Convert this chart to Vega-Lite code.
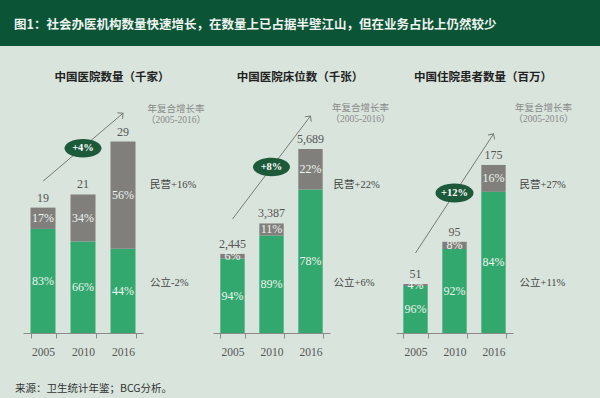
{
  "$schema": "https://vega.github.io/schema/vega-lite/v6.json",
  "background": "#d8e4dc",
  "padding": 0,
  "spacing": 25,
  "bounds": "full",
  "config": {
    "view": {"stroke": null},
    "axis": {"title": null, "labelAngle": 0, "domainColor": "#8a8a8a", "tickColor": "#8a8a8a", "tickSize": 5, "tickBand": "extent", "labelFont": "Liberation Serif", "labelFontSize": 11.5, "labelColor": "#555555", "labelPadding": 8, "grid": false},
    "title": {"font": "Noto Sans CJK SC", "fontSize": 11.5, "fontWeight": "bold", "color": "#222222", "offset": 8, "anchor": "middle", "frame": "group"},
    "text": {"font": "Liberation Serif, Noto Sans CJK SC"}
  },
  "datasets": {
    "bars1": [
      {"year": "2005", "seg": "公立", "ord": 1, "v": 15.77, "pct": "83%"},
      {"year": "2005", "seg": "民营", "ord": 2, "v": 3.23, "pct": "17%"},
      {"year": "2010", "seg": "公立", "ord": 1, "v": 13.86, "pct": "66%"},
      {"year": "2010", "seg": "民营", "ord": 2, "v": 7.14, "pct": "34%"},
      {"year": "2016", "seg": "公立", "ord": 1, "v": 12.76, "pct": "44%"},
      {"year": "2016", "seg": "民营", "ord": 2, "v": 16.24, "pct": "56%"}
    ],
    "tot1": [{"year": "2005", "v": 19}, {"year": "2010", "v": 21}, {"year": "2016", "v": 29}],
    "arr1": [{"year": "2005", "v": 23.0}, {"year": "2016", "v": 33.3}],
    "ell1": [{"year": "2010", "v": 28.0, "label": "+4%"}],
    "cagr1": [{"year": "2016", "v": 34.0, "label": "年复合增长率"}, {"year": "2016", "v": 32.3, "label": "（2005-2016）"}],
    "seg1": [{"year": "2016", "v": 22.4, "label": "民营+16%"}, {"year": "2016", "v": 7.6, "label": "公立-2%"}],
    "bars2": [
      {"year": "2005", "seg": "公立", "ord": 1, "v": 2298.3, "pct": "94%"},
      {"year": "2005", "seg": "民营", "ord": 2, "v": 146.7, "pct": "6%"},
      {"year": "2010", "seg": "公立", "ord": 1, "v": 3014.4, "pct": "89%"},
      {"year": "2010", "seg": "民营", "ord": 2, "v": 372.6, "pct": "11%"},
      {"year": "2016", "seg": "公立", "ord": 1, "v": 4437.4, "pct": "78%"},
      {"year": "2016", "seg": "民营", "ord": 2, "v": 1251.6, "pct": "22%"}
    ],
    "tot2": [{"year": "2005", "v": 2445}, {"year": "2010", "v": 3387}, {"year": "2016", "v": 5689}],
    "arr2": [{"year": "2005", "v": 3525}, {"year": "2016", "v": 6710}],
    "ell2": [{"year": "2010", "v": 5133, "label": "+8%"}],
    "cagr2": [{"year": "2016", "v": 6950, "label": "年复合增长率"}, {"year": "2016", "v": 6610, "label": "（2005-2016）"}],
    "seg2": [{"year": "2016", "v": 4576, "label": "民营+22%"}, {"year": "2016", "v": 1546, "label": "公立+6%"}],
    "bars3": [
      {"year": "2005", "seg": "公立", "ord": 1, "v": 48.96, "pct": "96%"},
      {"year": "2005", "seg": "民营", "ord": 2, "v": 2.04, "pct": "4%"},
      {"year": "2010", "seg": "公立", "ord": 1, "v": 87.4, "pct": "92%"},
      {"year": "2010", "seg": "民营", "ord": 2, "v": 7.6, "pct": "8%"},
      {"year": "2016", "seg": "公立", "ord": 1, "v": 147.0, "pct": "84%"},
      {"year": "2016", "seg": "民营", "ord": 2, "v": 28.0, "pct": "16%"}
    ],
    "tot3": [{"year": "2005", "v": 51}, {"year": "2010", "v": 95}, {"year": "2016", "v": 175}],
    "arr3": [{"year": "2005", "v": 83.3}, {"year": "2016", "v": 207.3}],
    "ell3": [{"year": "2010", "v": 145.8, "label": "+12%"}],
    "cagr3": [{"year": "2016", "v": 234.0, "label": "年复合增长率"}, {"year": "2016", "v": 222.5, "label": "（2005-2016）"}],
    "seg3": [{"year": "2016", "v": 154, "label": "民营+27%"}, {"year": "2016", "v": 52, "label": "公立+11%"}],
    "head": [{"t": "图1：社会办医机构数量快速增长，在数量上已占据半壁江山，但在业务占比上仍然较少"}],
    "foot": [{"t": "来源：卫生统计年鉴；BCG分析。"}]
  },
  "vconcat": [
    {
      "width": 600, "height": 46,
      "view": {"fill": "#0b5436", "stroke": null},
      "data": {"name": "head"},
      "mark": {"type": "text", "align": "left", "dx": -286, "dy": 2, "font": "Noto Sans CJK SC", "fontSize": 12.5, "fontWeight": "bold", "color": "#eef3ef"},
      "encoding": {"text": {"field": "t"}}
    },
    {
      "spacing": 0,
      "bounds": "flush",
      "hconcat": [
        {
          "width": 205, "height": 242,
          "title": {"text": "中国医院数量（千家）", "dx": 9.5},
          "encoding": {
            "x": {"field": "year", "type": "ordinal", "scale": {"range": [23, 143], "paddingInner": 0.375, "paddingOuter": 0.1875}},
            "y": {"field": "v", "type": "quantitative", "scale": {"domain": [0, 36.67], "nice": false}, "axis": null}
          },
          "layer": [
            {"data": {"name": "bars1"}, "mark": {"type": "bar"},
             "encoding": {"y": {"field": "v", "type": "quantitative", "stack": "zero"},
               "color": {"field": "seg", "type": "nominal", "scale": {"domain": ["公立", "民营"], "range": ["#33a86e", "#807f7c"]}, "legend": null},
               "order": {"field": "ord"}}},
            {"data": {"name": "bars1"}, "mark": {"type": "text", "color": "#eef4ef", "fontSize": 12},
             "encoding": {"y": {"field": "v", "type": "quantitative", "stack": "zero", "bandPosition": 0.5},
               "detail": {"field": "seg"}, "order": {"field": "ord"}, "text": {"field": "pct"}}},
            {"data": {"name": "tot1"}, "mark": {"type": "text", "baseline": "bottom", "dy": -3, "color": "#555555", "fontSize": 12},
             "encoding": {"text": {"field": "v", "format": ","}}},
            {"data": {"name": "arr1"}, "mark": {"type": "line", "color": "#7a7a7a", "strokeWidth": 1}, "encoding": {}},
            {"data": {"name": "arr1"}, "transform": [{"filter": {"field": "year", "equal": "2016"}}],
             "mark": {"type": "point", "shape": "M-0.7,0.7L0,0L0.7,0.7", "filled": false, "color": "#7a7a7a", "strokeWidth": 1, "size": 130, "angle": 49, "opacity": 1}, "encoding": {}},
            {"data": {"name": "ell1"}, "mark": {"type": "point", "shape": "M-1,0A1,0.5,0,1,1,1,0A1,0.5,0,1,1,-1,0Z", "filled": true, "color": "#1d5a3a", "size": 1369, "opacity": 1}, "encoding": {}},
            {"data": {"name": "ell1"}, "mark": {"type": "text", "color": "#ffffff", "fontSize": 10.5, "fontWeight": "bold"}, "encoding": {"text": {"field": "label"}}},
            {"data": {"name": "cagr1"}, "mark": {"type": "text", "align": "center", "dx": 53, "color": "#8a8a8a", "fontSize": 9.5}, "encoding": {"text": {"field": "label"}}},
            {"data": {"name": "seg1"}, "mark": {"type": "text", "align": "left", "dx": 27, "color": "#444444", "fontSize": 10.5}, "encoding": {"text": {"field": "label"}}}
          ]
        },
        {
          "width": 190, "height": 242,
          "title": {"text": "中国医院床位数（千张）", "dx": 0},
          "encoding": {
            "x": {"field": "year", "type": "ordinal", "scale": {"range": [8, 125], "paddingInner": 0.375, "paddingOuter": 0.1875}},
            "y": {"field": "v", "type": "quantitative", "scale": {"domain": [0, 7483], "nice": false}, "axis": null}
          },
          "layer": [
            {"data": {"name": "bars2"}, "mark": {"type": "bar"},
             "encoding": {"y": {"field": "v", "type": "quantitative", "stack": "zero"},
               "color": {"field": "seg", "type": "nominal", "scale": {"domain": ["公立", "民营"], "range": ["#33a86e", "#807f7c"]}, "legend": null},
               "order": {"field": "ord"}}},
            {"data": {"name": "bars2"}, "mark": {"type": "text", "color": "#eef4ef", "fontSize": 12},
             "encoding": {"y": {"field": "v", "type": "quantitative", "stack": "zero", "bandPosition": 0.5},
               "detail": {"field": "seg"}, "order": {"field": "ord"}, "text": {"field": "pct"}}},
            {"data": {"name": "tot2"}, "mark": {"type": "text", "baseline": "bottom", "dy": -3, "color": "#555555", "fontSize": 12},
             "encoding": {"text": {"field": "v", "format": ","}}},
            {"data": {"name": "arr2"}, "mark": {"type": "line", "color": "#7a7a7a", "strokeWidth": 1}, "encoding": {}},
            {"data": {"name": "arr2"}, "transform": [{"filter": {"field": "year", "equal": "2016"}}],
             "mark": {"type": "point", "shape": "M-0.7,0.7L0,0L0.7,0.7", "filled": false, "color": "#7a7a7a", "strokeWidth": 1, "size": 130, "angle": 37, "opacity": 1}, "encoding": {}},
            {"data": {"name": "ell2"}, "mark": {"type": "point", "shape": "M-1,0A1,0.5,0,1,1,1,0A1,0.5,0,1,1,-1,0Z", "filled": true, "color": "#1d5a3a", "size": 1369, "opacity": 1}, "encoding": {}},
            {"data": {"name": "ell2"}, "mark": {"type": "text", "color": "#ffffff", "fontSize": 10.5, "fontWeight": "bold"}, "encoding": {"text": {"field": "label"}}},
            {"data": {"name": "cagr2"}, "mark": {"type": "text", "align": "center", "dx": 50, "color": "#8a8a8a", "fontSize": 9.5}, "encoding": {"text": {"field": "label"}}},
            {"data": {"name": "seg2"}, "mark": {"type": "text", "align": "left", "dx": 23, "color": "#444444", "fontSize": 10.5}, "encoding": {"text": {"field": "label"}}}
          ]
        },
        {
          "width": 205, "height": 242,
          "title": {"text": "中国住院患者数量（百万）", "dx": -14.5},
          "encoding": {
            "x": {"field": "year", "type": "ordinal", "scale": {"range": [1, 118], "paddingInner": 0.375, "paddingOuter": 0.1875}},
            "y": {"field": "v", "type": "quantitative", "scale": {"domain": [0, 252], "nice": false}, "axis": null}
          },
          "layer": [
            {"data": {"name": "bars3"}, "mark": {"type": "bar"},
             "encoding": {"y": {"field": "v", "type": "quantitative", "stack": "zero"},
               "color": {"field": "seg", "type": "nominal", "scale": {"domain": ["公立", "民营"], "range": ["#33a86e", "#807f7c"]}, "legend": null},
               "order": {"field": "ord"}}},
            {"data": {"name": "bars3"}, "mark": {"type": "text", "color": "#eef4ef", "fontSize": 12},
             "encoding": {"y": {"field": "v", "type": "quantitative", "stack": "zero", "bandPosition": 0.5},
               "detail": {"field": "seg"}, "order": {"field": "ord"}, "text": {"field": "pct"}}},
            {"data": {"name": "tot3"}, "mark": {"type": "text", "baseline": "bottom", "dy": -3, "color": "#555555", "fontSize": 12},
             "encoding": {"text": {"field": "v", "format": ","}}},
            {"data": {"name": "arr3"}, "mark": {"type": "line", "color": "#7a7a7a", "strokeWidth": 1}, "encoding": {}},
            {"data": {"name": "arr3"}, "transform": [{"filter": {"field": "year", "equal": "2016"}}],
             "mark": {"type": "point", "shape": "M-0.7,0.7L0,0L0.7,0.7", "filled": false, "color": "#7a7a7a", "strokeWidth": 1, "size": 130, "angle": 33, "opacity": 1}, "encoding": {}},
            {"data": {"name": "ell3"}, "mark": {"type": "point", "shape": "M-1,0A1,0.5,0,1,1,1,0A1,0.5,0,1,1,-1,0Z", "filled": true, "color": "#1d5a3a", "size": 1444, "opacity": 1}, "encoding": {}},
            {"data": {"name": "ell3"}, "mark": {"type": "text", "color": "#ffffff", "fontSize": 10.5, "fontWeight": "bold"}, "encoding": {"text": {"field": "label"}}},
            {"data": {"name": "cagr3"}, "mark": {"type": "text", "align": "center", "dx": 50, "color": "#8a8a8a", "fontSize": 9.5}, "encoding": {"text": {"field": "label"}}},
            {"data": {"name": "seg3"}, "mark": {"type": "text", "align": "left", "dx": 26, "color": "#444444", "fontSize": 10.5}, "encoding": {"text": {"field": "label"}}}
          ]
        }
      ]
    },
    {
      "width": 600, "height": 15,
      "data": {"name": "foot"},
      "mark": {"type": "text", "align": "left", "dx": -285, "dy": -6, "font": "Noto Sans CJK SC", "fontSize": 10.5, "color": "#333333"},
      "encoding": {"text": {"field": "t"}}
    }
  ]
}
